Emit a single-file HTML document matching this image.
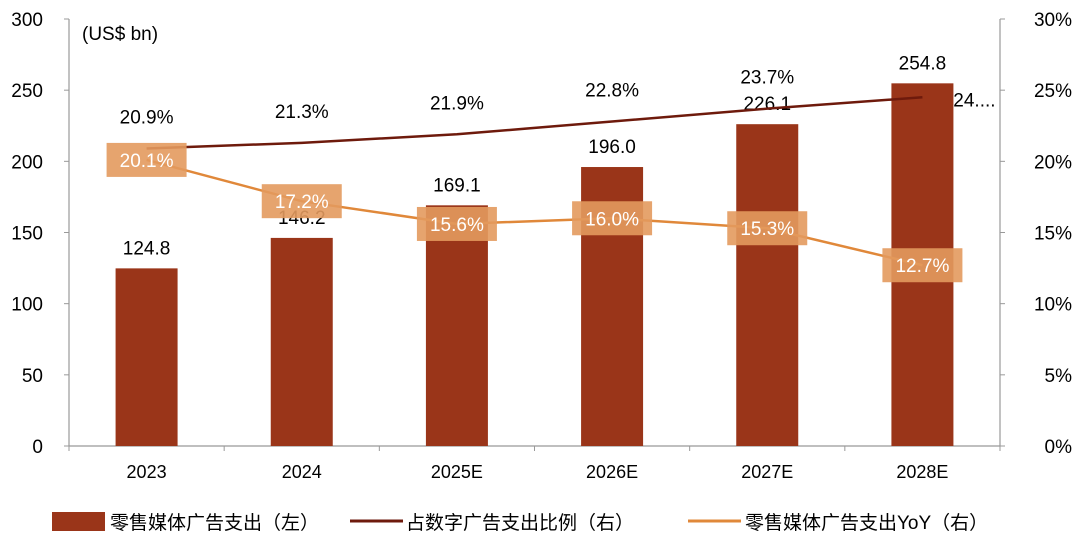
<!DOCTYPE html>
<html><head><meta charset="utf-8"><style>
body{margin:0;background:#fff}
svg text{font-family:"Liberation Sans","Noto Sans CJK SC",sans-serif}
</style></head><body>
<svg id="c" width="1080" height="531" xmlns="http://www.w3.org/2000/svg"></svg>
<script>
const categories=["2023","2024","2025E","2026E","2027E","2028E"];
const spend=[124.8,146.2,169.1,196.0,226.1,254.8];
const share=[20.9,21.3,21.9,22.8,23.7,24.5];
const yoy=[20.1,17.2,15.6,16.0,15.3,12.7];
const leftTicks=[0,50,100,150,200,250,300];
const rightTicks=[0,5,10,15,20,25,30];
const shareLabels=["20.9%","21.3%","21.9%","22.8%","23.7%","24...."];
const svg=document.getElementById('c');
const NS="http://www.w3.org/2000/svg";
const X0=69,X1=1000,Y0=446,Y1=19;
const bw=(X1-X0)/categories.length;
const xc=i=>X0+bw*(i+0.5);
const yl=v=>Y0-(v/300)*(Y0-Y1);
const yr=v=>Y0-(v/30)*(Y0-Y1);
function el(t,a,txt){const e=document.createElementNS(NS,t);for(const k in a)e.setAttribute(k,a[k]);if(txt!==undefined)e.textContent=txt;svg.appendChild(e);return e;}
// axes
let a=el('line',{x1:X0,y1:Y1,x2:X0,y2:Y0,stroke:'#999','stroke-width':1.2});

a=el('line',{x1:X1,y1:Y1,x2:X1,y2:Y0,stroke:'#999','stroke-width':1.2});

a=el('line',{x1:X0,y1:Y0,x2:X1,y2:Y0,stroke:'#999','stroke-width':1.2});

leftTicks.forEach(v=>{
 el('line',{x1:X0-5,y1:yl(v),x2:X0,y2:yl(v),stroke:'#999'});
 const t=el('text',{x:43,y:yl(v)+7,'font-size':19,'text-anchor':'end',fill:'#000'},String(v));
 
});
rightTicks.forEach(v=>{
 el('line',{x1:X1,y1:yr(v),x2:X1+5,y2:yr(v),stroke:'#999'});
 const t=el('text',{x:1072,y:yr(v)+7,'font-size':19,'text-anchor':'end',fill:'#000'},v+'%');
 
});
for(let i=0;i<=categories.length;i++){el('line',{x1:X0+bw*i,y1:Y0,x2:X0+bw*i,y2:Y0+5,stroke:'#999'});}
categories.forEach((c,i)=>{
 const t=el('text',{x:xc(i),y:478,'font-size':18,'text-anchor':'middle'},c);
 
});
let u=el('text',{x:82,y:40,'font-size':19},'(US$ bn)');

// bars
spend.forEach((v,i)=>{
 const r=el('rect',{x:xc(i)-31,y:yl(v),width:62,height:Y0-yl(v),fill:'#9a3519'});
 
 const t=el('text',{x:xc(i),y:yl(v)-14,'font-size':19,'text-anchor':'middle'},v.toFixed(1));
 
});
// share line
let p=el('polyline',{points:share.map((v,i)=>xc(i)+','+yr(v)).join(' '),fill:'none',stroke:'#6e1a0c','stroke-width':2.5});

share.forEach((v,i)=>{
 const last=i===share.length-1;
 const t=el('text',{x:last?xc(i)+52:xc(i),y:last?yr(v)+9:yr(v)-25,'font-size':19,'text-anchor':'middle'},shareLabels[i]);
 
});
// yoy line
p=el('polyline',{points:yoy.map((v,i)=>xc(i)+','+yr(v)).join(' '),fill:'none',stroke:'#e0883a','stroke-width':2.5});

yoy.forEach((v,i)=>{
 const b=el('rect',{x:xc(i)-40,y:yr(v)-17,width:80,height:34,fill:'#e39a5e','fill-opacity':0.9});
 
 const t=el('text',{x:xc(i),y:yr(v)+7,'font-size':19,'text-anchor':'middle',fill:'#fff'},v.toFixed(1)+'%');
 
});
// legend
let r=el('rect',{x:52,y:512,width:53,height:19,fill:'#9a3519'});

let t=el('text',{x:110,y:529,'font-size':19},'零售媒体广告支出（左）');

r=el('line',{x1:350,y1:521,x2:403,y2:521,stroke:'#6e1a0c','stroke-width':3});

t=el('text',{x:406,y:529,'font-size':19},'占数字广告支出比例（右）');

r=el('line',{x1:688,y1:521,x2:741,y2:521,stroke:'#e0883a','stroke-width':3});

t=el('text',{x:745,y:529,'font-size':19},'零售媒体广告支出YoY（右）');

</script>
</body></html>
